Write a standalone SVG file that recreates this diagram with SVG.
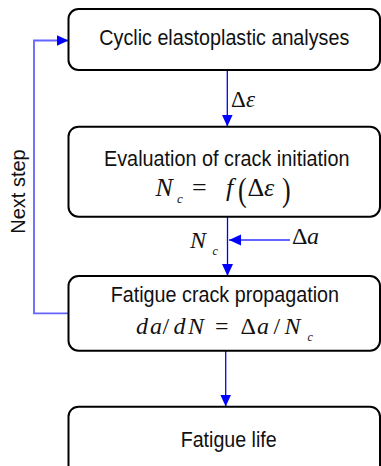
<svg xmlns="http://www.w3.org/2000/svg" width="381" height="466" viewBox="0 0 381 466">
<style>
.box{fill:#fff;stroke:#000;stroke-width:2}
.lbl{font-family:"Liberation Sans",Arial,sans-serif;font-size:21.5px;fill:#111}
.m{font-family:"Liberation Serif","Times New Roman",serif;font-style:italic;fill:#111}
.u{font-family:"Liberation Serif","Times New Roman",serif;font-style:normal;fill:#111}
.blue{fill:none;stroke:#0000ff;stroke-width:1.3}
.light{fill:none;stroke:#6464ff;stroke-width:1.8}
</style>
<defs>
<marker id="ah" markerUnits="userSpaceOnUse" markerWidth="12" markerHeight="12" viewBox="0 0 12 12" refX="12" refY="6" orient="auto">
<path d="M0,0.5 L12,6 L0,11.5 Z" fill="#0000ff"/>
</marker>
</defs>
<rect width="381" height="466" fill="#fff"/>
<g id="connectors">
<line class="blue" x1="227.3" y1="70" x2="227.3" y2="126.5" marker-end="url(#ah)"/>
<line class="blue" x1="227.5" y1="216.5" x2="227.5" y2="276" marker-end="url(#ah)"/>
<line class="light" x1="290" y1="240" x2="229" y2="240" marker-end="url(#ah)"/>
<line class="blue" x1="225.7" y1="351" x2="225.7" y2="406.5" marker-end="url(#ah)"/>
<path class="light" d="M72,313.3 H34 V40.5 H68.5" marker-end="url(#ah)"/>
</g>
<g id="n1">
<rect class="box" x="68.5" y="9" width="311.5" height="61" rx="10"/>
<text class="lbl" x="99.3" y="44.5" textLength="250" lengthAdjust="spacingAndGlyphs">Cyclic elastoplastic analyses</text>
</g>
<g id="n2">
<rect class="box" x="68.5" y="126.7" width="311.5" height="90" rx="10"/>
<text class="lbl" x="104" y="166" textLength="245.5" lengthAdjust="spacingAndGlyphs">Evaluation of crack initiation</text>
<text class="m" font-size="26" x="155.5" y="196">N</text>
<text class="m" font-size="13" x="177" y="202.5">c</text>
<text class="u" font-size="26" x="192" y="196">=</text>
<text class="m" font-size="26" x="226" y="196">f</text>
<text class="u" font-size="26" transform="translate(238,200.5) scale(1,1.32)">(</text>
<text class="u" font-size="26" x="247.5" y="196">Δ</text>
<text class="m" font-size="26" x="264" y="196">ε</text>
<text class="u" font-size="26" transform="translate(282,200.5) scale(1,1.32)">)</text>
</g>
<g id="n3">
<rect class="box" x="68.5" y="276" width="311.5" height="74.7" rx="10"/>
<text class="lbl" x="110.7" y="302" textLength="228.3" lengthAdjust="spacingAndGlyphs">Fatigue crack propagation</text>
<text class="m" font-size="24" x="136" y="333.5">d</text>
<text class="m" font-size="24" x="150" y="333.5">a</text>
<text class="u" font-size="24" x="162.5" y="333.5">/</text>
<text class="m" font-size="24" x="173.5" y="333.5">d</text>
<text class="m" font-size="24" x="188" y="333.5">N</text>
<text class="u" font-size="24" x="215" y="333.5">=</text>
<text class="u" font-size="24" x="240.5" y="333.5">Δ</text>
<text class="m" font-size="24" x="257" y="333.5">a</text>
<text class="u" font-size="24" x="273.5" y="333.5">/</text>
<text class="m" font-size="24" x="284.5" y="333.5">N</text>
<text class="m" font-size="12" x="307.5" y="341">c</text>
</g>
<g id="n4">
<rect class="box" x="68.5" y="406.7" width="311.5" height="70" rx="10"/>
<text class="lbl" x="180.7" y="447" textLength="96" lengthAdjust="spacingAndGlyphs">Fatigue life</text>
</g>
<g id="labels">
<text class="u" font-size="23" x="231" y="106.5">Δ</text>
<text class="m" font-size="23" x="246" y="106.5">ε</text>
<text class="m" font-size="24" x="190" y="248.3">N</text>
<text class="m" font-size="12" x="212.5" y="255">c</text>
<text class="u" font-size="24" x="292" y="244">Δ</text>
<text class="m" font-size="24" x="307" y="244">a</text>
<text class="lbl" style="font-size:20px" text-anchor="middle" transform="translate(24.5,191.5) rotate(-90)">Next step</text>
</g>
</svg>
